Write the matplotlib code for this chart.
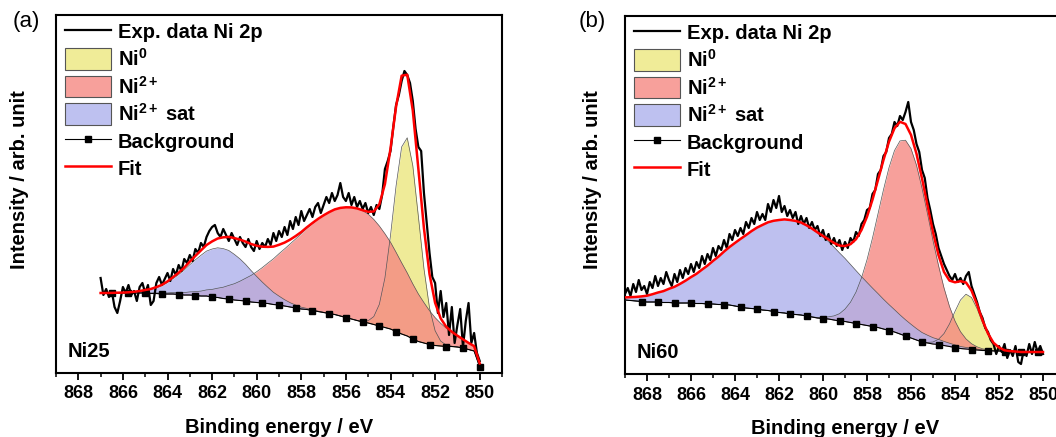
import numpy as np
import matplotlib
matplotlib.use('Agg')
import matplotlib.pyplot as plt
from matplotlib.lines import Line2D
from matplotlib.patches import Patch
from matplotlib.ticker import MultipleLocator

plt.rcParams['font.family'] = ['Liberation Sans', 'DejaVu Sans']
plt.rcParams['mathtext.fontset'] = 'custom'
plt.rcParams['mathtext.rm'] = 'Liberation Sans:bold'
plt.rcParams['mathtext.bf'] = 'Liberation Sans:bold'
plt.rcParams['mathtext.it'] = 'Liberation Sans:bold'

# ---------------- data: panel (a) Ni25, grid 867 -> 850 eV, 0.25 eV step ----------------
range_a = (867.0, 850.0)
bg_a = [80, 80, 80, 80, 80, 80, 80, 80, 80, 79.5, 79.5, 79, 79, 79, 78.5, 78, 78, 77.5,
        77, 77, 76, 75.5, 74.5, 74, 73, 72.5, 72, 71, 70.5, 70, 69.5, 68.5, 68, 67, 66,
        65, 64, 63.5, 62.5, 61.5, 60.5, 59.5, 58.5, 57, 55.5, 54, 52.5, 51, 50, 48.5, 47,
        45.5, 44, 41.5, 39, 37, 34, 31.5, 30, 28.5, 27.5, 27, 26.5, 26.5, 26, 25, 23.5, 22, 6]
sat_a = [0, 0, 0.1, 0.2, 0.3, 0.6, 1.0, 1.7, 2.6, 4.0, 5.8, 8.3, 11.5, 15.4, 19.9, 25.0,
         30.3, 35.7, 40.7, 44.9, 48.0, 49.7, 49.9, 48.5, 45.6, 41.6, 36.7, 31.4, 26.0,
         20.9, 16.2, 12.2, 8.9, 6.3, 4.3, 2.9, 1.8, 1.1, 0.7, 0.4, 0.2] + [0] * 28
ni2_a = [0, 0, 0, 0.1, 0.1, 0.1, 0.2, 0.3, 0.4, 0.5, 0.6, 0.9, 1.1, 1.5, 1.9, 2.4, 3.1,
         3.9, 4.9, 6.1, 7.6, 9.3, 11.3, 13.6, 16.3, 19.3, 22.7, 26.6, 30.8, 35.4, 40.4,
         45.7, 51.3, 57.1, 63.1, 69.1, 75.2, 81.1, 86.8, 92.2, 97.0, 101.4, 105.1, 108.1,
         110.2, 111.6, 112.0, 111.2, 108.9, 105.1, 100.0, 93.8, 86.8, 79.2, 71.2, 63.1,
         55.1, 47.5, 40.4, 33.8, 27.9, 22.7, 18.3, 14.4, 11.3, 8.7, 6.6, 4.9, 3.6]
ni0_a = [0] * 46 + [0.1, 0.6, 2.3, 7.9, 21.7, 49.6, 93.6, 145.7, 187.1, 198.2, 173.3,
                    125.0, 74.3, 36.5, 14.8, 4.9, 1.4, 0.3, 0, 0, 0, 0, 0]
exp_range_a = (867.0, 850.0)
exp_a = [95, 78, 84, 76, 82, 66, 60, 72, 86, 80, 88, 78, 82, 72, 86, 90, 80, 88, 68, 72,
         90, 96, 88, 94, 100, 92, 104, 98, 108, 102, 114, 110, 118, 112, 124, 120, 130,
         126, 136, 142, 146, 148, 140, 136, 144, 138, 132, 140, 134, 128, 136, 130, 126,
         134, 126, 122, 132, 124, 130, 126, 134, 128, 140, 132, 142, 136, 146, 138, 152,
         144, 156, 148, 162, 152, 158, 164, 156, 166, 170, 160, 168, 176, 170, 180, 172,
         178, 190, 176, 172, 180, 168, 176, 166, 172, 164, 170, 160, 166, 158, 168, 164,
         178, 204, 212, 222, 246, 268, 278, 292, 302, 298, 290, 272, 244, 226, 222, 180,
         150, 120, 96, 90, 60, 82, 56, 70, 38, 66, 30, 48, 64, 26, 52, 70, 30, 40, 20, 12]

# ---------------- data: panel (b) Ni60, grid 869 -> 850 eV, 0.25 eV step ----------------
range_b = (869.0, 850.0)
bg_b = [74, 73.5, 73, 72.5, 72, 72, 72, 71.5, 71.5, 71, 71, 71, 71, 70.5, 70.5, 70, 70,
        69.5, 69.5, 69, 68, 67, 66, 65.5, 65, 64, 63.5, 62.5, 61.5, 61, 60, 59.5, 59, 58,
        57, 56, 55.5, 55, 54, 53, 52.5, 51.5, 50.5, 49.5, 48.5, 47.5, 46.5, 45, 43.5, 42,
        40, 38, 36, 34, 32, 31, 30, 29.5, 28.5, 27.5, 26.5, 25.5, 25, 24.5, 24, 23.5, 23.5,
        23, 23, 22.5, 22.5, 22.5, 22, 22, 22, 22, 22]
sat_b = [2.6, 3.3, 4.1, 5.1, 6.3, 7.8, 9.5, 11.4, 13.7, 16.2, 19.1, 22.3, 25.9, 29.7, 33.9,
         38.4, 43.1, 47.9, 52.9, 58.0, 63.1, 68.1, 72.9, 77.4, 81.4, 85.1, 88.2, 90.7, 92.5,
         93.6, 94.0, 93.6, 92.5, 90.7, 88.2, 85.1, 81.4, 77.4, 72.9, 68.1, 63.1, 58.0, 52.9,
         47.9, 43.1, 38.4, 33.9, 29.7, 25.9, 22.3, 19.1, 16.2, 13.7, 11.4, 9.5, 7.8, 6.3,
         5.1, 4.1, 3.3, 2.6, 2.0, 1.6, 1.2, 0.9, 0.7, 0.5, 0.4, 0.3, 0.2, 0.1] + [0] * 6
ni2_b = [0] * 34 + [0.2, 0.5, 1.1, 2.2, 4.1, 7.3, 12.4, 20.3, 31.4, 46.6, 65.7, 88.5, 113.7,
                    139.4, 162.9, 181.5, 193.1, 195.8, 189.4, 174.8, 153.9, 129.2, 103.5,
                    79.0, 57.6, 40.0, 26.5, 16.8, 10.1, 5.8, 3.2, 1.7, 0.8, 0.4, 0.2] + [0] * 8
ni0_b = [0] * 54 + [0.1, 0.6, 2.0, 5.2, 11.9, 22.6, 36.1, 48.5, 54.8, 52.0, 41.5, 27.8,
                    15.7, 7.4, 3.0, 1.0, 0.3] + [0] * 6
exp_range_b = (869.0, 850.0)
exp_b = [80, 86, 78, 90, 82, 94, 84, 88, 80, 92, 86, 98, 88, 96, 90, 102, 94, 88, 100, 92,
         104, 96, 106, 100, 110, 102, 112, 106, 118, 110, 120, 114, 126, 118, 128, 124, 134,
         126, 140, 134, 144, 138, 146, 140, 152, 146, 156, 150, 162, 154, 160, 154, 170,
         162, 174, 166, 178, 162, 168, 158, 164, 156, 162, 150, 158, 150, 156, 146, 152,
         144, 148, 138, 144, 134, 140, 130, 136, 128, 134, 124, 132, 126, 136, 132, 142,
         138, 150, 154, 164, 166, 180, 184, 200, 204, 218, 222, 236, 240, 252, 248, 258,
         254, 262, 272, 252, 244, 230, 222, 204, 196, 176, 164, 150, 140, 126, 118, 110,
         104, 98, 94, 100, 92, 96, 90, 98, 102, 88, 80, 72, 62, 56, 46, 42, 34, 30, 20, 28,
         22, 30, 16, 24, 18, 28, 12, 10, 24, 18, 30, 20, 32, 22, 28, 20]

panel_labels = ['(a)', '(b)']
sample_names = ['Ni25', 'Ni60']
legend_labels = ['Exp. data Ni 2p', 'Ni$^{0}$', 'Ni$^{2+}$', 'Ni$^{2+}$ sat', 'Background', 'Fit']
xticks = [868, 866, 864, 862, 860, 858, 856, 854, 852, 850]

# ---------------- style ----------------
Y_FILL = '#ECE77E'; P_FILL = '#F58882'; B_FILL = '#AEB1EC'
Y_LEG = '#F0EC98'; P_LEG = '#F7A09B'; B_LEG = '#BEC1F0'
FS = 13
FL = 14.5

fig = plt.figure(figsize=(10.56, 4.37), dpi=100)
W, H = 1056.0, 437.0
ax_a = fig.add_axes([56 / W, 64 / H, 446 / W, 358 / H])
ax_b = fig.add_axes([625 / W, 63 / H, 440 / W, 358 / H])


def draw(ax, rng, bg, ni0, ni2, sat, exp_rng, expv, mark_slice, name):
    e = np.linspace(rng[0], rng[1], len(bg))
    bg = np.array(bg, float)
    ni0 = np.array(ni0, float); ni2 = np.array(ni2, float); sat = np.array(sat, float)
    fit = bg + ni0 + ni2 + sat
    for comp, col in [(ni0, Y_FILL), (ni2, P_FILL), (sat, B_FILL)]:
        ax.fill_between(e, bg, bg + comp, color=col, alpha=0.8, lw=0, zorder=2)
        ax.plot(e, bg + comp, color='#555555', lw=0.5, zorder=3)
    ax.plot(e, bg, color='k', lw=0.8, marker='s', ms=4.5, markevery=mark_slice, zorder=4)
    ee = np.linspace(exp_rng[0], exp_rng[1], len(expv))
    ax.plot(ee, expv, color='k', lw=1.6, zorder=5)
    ax.plot(e, fit, color='#FF0000', lw=1.8, zorder=6)
    ax.set_xlim(869, 849)
    ax.set_ylim(0, 358)
    ax.set_xticks(xticks)
    ax.set_xticklabels([str(t) for t in xticks], fontweight='bold')
    ax.xaxis.set_minor_locator(MultipleLocator(1))
    ax.set_yticks([])
    ax.tick_params(axis='x', which='major', length=5, width=1.3, direction='out',
                   labelsize=FS, pad=4, top=False)
    ax.tick_params(axis='x', which='minor', length=3, width=1.1, direction='out', top=False)
    for s in ax.spines.values():
        s.set_linewidth(1.5)
    ax.set_xlabel('Binding energy / eV', fontsize=FL, fontweight='bold', labelpad=11)
    ax.text(0.027, 0.06, name, transform=ax.transAxes, fontsize=FL, fontweight='bold',
            ha='left', va='center')
    handles = [Line2D([0], [0], color='k', lw=1.6),
               Patch(facecolor=Y_LEG, edgecolor='#555555', lw=0.8),
               Patch(facecolor=P_LEG, edgecolor='#555555', lw=0.8),
               Patch(facecolor=B_LEG, edgecolor='#555555', lw=0.8),
               Line2D([0], [0], color='k', lw=0.8, marker='s', ms=4),
               Line2D([0], [0], color='#FF0000', lw=1.8)]
    ax.legend(handles, legend_labels, loc='upper left', bbox_to_anchor=(0.012, 0.995),
              frameon=False, prop={'weight': 'bold', 'size': FL}, handlelength=2.25,
              handleheight=1.25, labelspacing=0.28, handletextpad=0.35, borderaxespad=0.1,
              borderpad=0.1)


draw(ax_a, range_a, bg_a, ni0_a, ni2_a, sat_a, exp_range_a, exp_a, slice(2, None, 3), sample_names[0])
draw(ax_b, range_b, bg_b, ni0_b, ni2_b, sat_b, exp_range_b, exp_b, slice(3, None, 3), sample_names[1])

fig.text(20 / W, 1 - 180 / H, 'Intensity / arb. unit', rotation=90, fontsize=FL,
         fontweight='bold', ha='center', va='center')
fig.text(592 / W, 1 - 180 / H, 'Intensity / arb. unit', rotation=90, fontsize=FL,
         fontweight='bold', ha='center', va='center')
fig.text(26 / W, 1 - 21 / H, panel_labels[0], fontsize=16, ha='center', va='center')
fig.text(592 / W, 1 - 21 / H, panel_labels[1], fontsize=16, ha='center', va='center')

fig.savefig('out.png', dpi=100)
